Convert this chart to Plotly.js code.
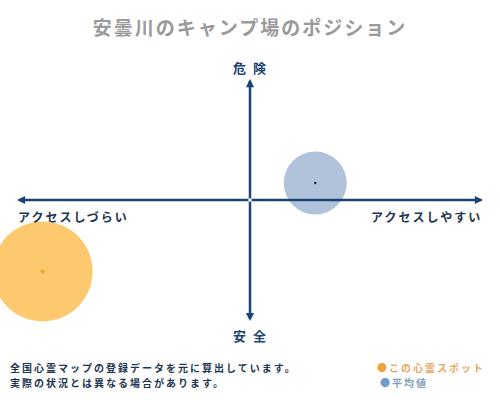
<!DOCTYPE html>
<html>
<head>
<meta charset="utf-8">
<script src="https://cdn.plot.ly/plotly-3.0.1.min.js"></script>
<style>
  html, body { margin: 0; padding: 0; background: #fff; }
  #chart { width: 500px; height: 400px; }
  .spaced text.annotation-text { letter-spacing: 2px; }
  .spaced g.g-gtitle text { letter-spacing: 2px; }
</style>
</head>
<body>
<div id="chart" class="spaced"></div>
<script>
// positions on the map: x = access (-1 hard .. 1 easy), y = danger (-1 safe .. 1 dangerous)
const seriesNames = ["この心霊スポット", "平均値"];
const accessValues = [-0.89, 0.28];
const dangerValues = [-0.59, 0.14];
const bubbleSizes = [100, 63];

const axisLabels = { top: "危 険", bottom: "安 全", left: "アクセスしづらい", right: "アクセスしやすい" };
const noteLines = ["全国心霊マップの登録データを元に算出しています。", "実際の状況とは異なる場合があります。"];

const navy = "#1b4373";
const font = "'Noto Sans CJK JP', 'Noto Sans', sans-serif";

const data = [
  {
    x: [accessValues[0]],
    y: [dangerValues[0]],
    name: seriesNames[0],
    type: "scatter",
    mode: "markers",
    hoverinfo: "none",
    marker: { size: bubbleSizes[0], color: "#fdc96f", line: { width: 0 } },
  },
  {
    x: [accessValues[0]],
    y: [dangerValues[0]],
    type: "scatter",
    mode: "markers",
    hoverinfo: "none",
    marker: { size: 4, symbol: "diamond", color: "#f0a52a" },
  },
  {
    x: [accessValues[1]],
    y: [dangerValues[1]],
    name: seriesNames[1],
    type: "scatter",
    mode: "markers",
    hoverinfo: "none",
    marker: { size: bubbleSizes[1], color: "#b0c3da", line: { width: 0 } },
  },
  {
    x: [accessValues[1]],
    y: [dangerValues[1]],
    type: "scatter",
    mode: "markers",
    hoverinfo: "none",
    marker: { size: 2.5, color: "#1a2a3a" },
  },
];

function arrow(x, y) {
  return {
    x: x, y: y, ax: 0, ay: 0,
    xref: "x", yref: "y", axref: "x", ayref: "y",
    text: "", showarrow: true,
    arrowhead: 2, arrowsize: 0.65, arrowwidth: 2.5, arrowcolor: navy,
    standoff: 0, startstandoff: 0,
  };
}

// all labels are centred: letter-spacing then spreads evenly on both sides
function label(text, cx, cy, size, color) {
  return {
    text: text, x: cx / 500, y: 1 - cy / 400, xref: "paper", yref: "paper",
    xanchor: "center", yanchor: "middle", showarrow: false,
    font: { family: font, size: size, color: color, weight: "bold" },
  };
}

const annotations = [
  arrow(1.0, 0), arrow(-1.0, 0), arrow(0, 1.0), arrow(0, -1.0),
  label(axisLabels.top, 250, 67, 13, navy),
  label(axisLabels.bottom, 250, 335, 13, navy),
  label(axisLabels.left, 73, 216, 12, "#1e3550"),
  label(axisLabels.right, 426, 216, 12, "#1e3550"),
  label(noteLines[0], 153, 367, 10, "#1e3550"),
  label(noteLines[1], 117, 382, 10, "#1e3550"),
  label('<span style="color:#f0a040">●</span>' + seriesNames[0], 431, 367, 10, "#e8a860"),
  label('<span style="color:#6f9cc8">●</span>' + seriesNames[1], 404, 382, 10, "#7f9fc0"),
];

const layout = {
  width: 500,
  height: 400,
  margin: { t: 0, b: 0, l: 0, r: 0 },
  paper_bgcolor: "#fff",
  plot_bgcolor: "#fff",
  showlegend: false,
  title: {
    text: "安曇川のキャンプ場のポジション",
    x: 0.5,
    xanchor: "center",
    y: 1 - 28 / 400,
    yanchor: "middle",
    font: { family: font, size: 19, color: "#9a9a9a", weight: "bold" },
  },
  xaxis: {
    range: [-250 / 233, 250 / 233],
    visible: false,
    fixedrange: true,
  },
  yaxis: {
    range: [-200 / 121, 200 / 121],
    visible: false,
    fixedrange: true,
  },
  annotations: annotations,
};

Plotly.newPlot("chart", data, layout, { displayModeBar: false, staticPlot: true });
</script>
</body>
</html>
